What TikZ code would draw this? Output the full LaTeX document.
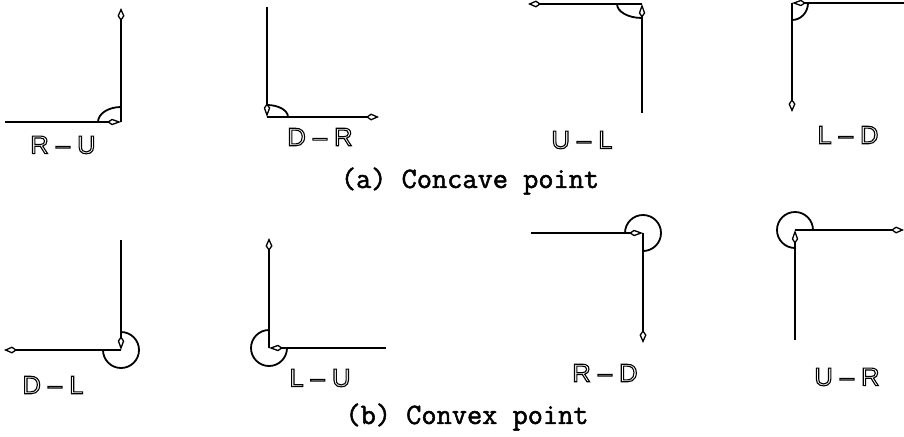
\documentclass[tikz,border=0pt]{standalone}
\usepackage{fontspec}
\setmainfont{Liberation Sans}
\usetikzlibrary{arrows.meta}
\tikzset{
  vec/.style={line width=2.2pt, black},
  tipend/.style={-{Kite[open,length=13pt,width=7pt,inset=5pt,line width=1.3pt]}},
  tipcorner/.style={-{Kite[open,length=14pt,width=6.5pt,inset=5pt,line width=1.3pt]}},
  angarc/.style={line width=1.8pt, black},
  dirlabel/.style={font=\fontsize{25.5}{26}\selectfont, inner sep=0pt},
  caption/.style={font=\ttfamily\fontsize{29.5}{30}\selectfont, inner sep=0pt}
}
\newcommand{\hollow}[1]{\special{pdf:literal direct 1 Tr 1.1 w}#1\special{pdf:literal direct 0 Tr}}
\newcommand{\heavy}[1]{\special{pdf:literal direct 2 Tr 0.5 w}#1\special{pdf:literal direct 0 Tr}}
\begin{document}
\begin{tikzpicture}[x=1pt,y=-1pt]
\useasboundingbox (0,0) rectangle (904,436);
% ---------- (a) concave ----------
% R-U
\coordinate (c1) at (121,122);
\coordinate (s1) at (5,122);
\coordinate (e1) at (121,8);
\draw[vec,tipcorner] (s1) -- (c1);
\draw[vec,tipend] (c1) -- (e1);
\draw[angarc] (c1) ++(-23,0) arc[start angle=180,end angle=270,x radius=23,y radius=15];
\node[dirlabel] (l1) at (63,145) {\hollow{R – U}};
% D-R
\coordinate (c2) at (267,117);
\coordinate (s2) at (267,7);
\coordinate (e2) at (379,117);
\draw[vec,tipcorner] (s2) -- (c2);
\draw[vec,tipend] (c2) -- (e2);
\draw[angarc] (c2) ++(21,0) arc[start angle=0,end angle=-90,x radius=21,y radius=12];
\node[dirlabel] (l2) at (320,137) {\hollow{D – R}};
% U-L
\coordinate (c3) at (642,4);
\coordinate (s3) at (642,113);
\coordinate (e3) at (528,4);
\draw[vec,tipcorner] (s3) -- (c3);
\draw[vec,tipend] (c3) -- (e3);
\draw[angarc] (c3) ++(-25,0) arc[start angle=180,end angle=90,x radius=25,y radius=14];
\node[dirlabel] (l3) at (582,140) {\hollow{U – L}};
% L-D
\coordinate (c4) at (792,3);
\coordinate (s4) at (904,3);
\coordinate (e4) at (792,112);
\draw[vec,tipcorner] (s4) -- (c4);
\draw[vec,tipend] (c4) -- (e4);
\draw[angarc] (c4) ++(0,17) arc[start angle=90,end angle=0,x radius=16,y radius=17];
\node[dirlabel] (l4) at (848,135) {\hollow{L – D}};
\node[caption] (capa) at (470,181) {\heavy{(a) Concave point}};
% ---------- (b) convex ----------
% D-L
\coordinate (c5) at (121,350);
\coordinate (s5) at (121,240);
\coordinate (e5) at (4,350);
\draw[vec,tipcorner] (s5) -- (c5);
\draw[vec,tipend] (c5) -- (e5);
\draw[angarc] (c5) ++(0,-18) arc[start angle=-90,end angle=180,radius=18];
\node[dirlabel] (l5) at (53,385) {\hollow{D – L}};
% L-U
\coordinate (c6) at (269,348);
\coordinate (s6) at (386,348);
\coordinate (e6) at (269,238);
\draw[vec,tipcorner] (s6) -- (c6);
\draw[vec,tipend] (c6) -- (e6);
\draw[angarc] (c6) ++(18,0) arc[start angle=0,end angle=270,radius=18];
\node[dirlabel] (l6) at (320,378) {\hollow{L – U}};
% R-D
\coordinate (c7) at (643,233);
\coordinate (s7) at (531,233);
\coordinate (e7) at (643,343);
\draw[vec,tipcorner] (s7) -- (c7);
\draw[vec,tipend] (c7) -- (e7);
\draw[angarc] (c7) ++(-18,0) arc[start angle=180,end angle=450,radius=18];
\node[dirlabel] (l7) at (605,373) {\hollow{R – D}};
% U-R
\coordinate (c8) at (795,230);
\coordinate (s8) at (795,340);
\coordinate (e8) at (904,230);
\draw[vec,tipcorner] (s8) -- (c8);
\draw[vec,tipend] (c8) -- (e8);
\draw[angarc] (c8) ++(18,0) arc[start angle=0,end angle=-270,radius=18];
\node[dirlabel] (l8) at (847,377) {\hollow{U – R}};
\node[caption] (capb) at (467,417) {\heavy{(b) Convex point}};
\end{tikzpicture}
\end{document}
